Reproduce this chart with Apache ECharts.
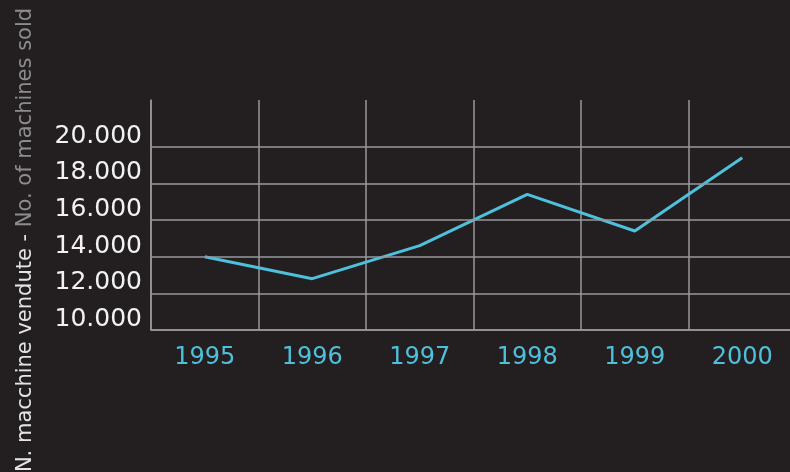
<!DOCTYPE html>
<html>
<head>
    <meta charset="UTF-8">
    <title>N. macchine vendute</title>
    <style>
        html, body { margin: 0; padding: 0; background: #231f20; }
    </style>
</head>
<body>
<div id="chart" style="width: 790px;height: 472px;"></div>
<script src="https://cdn.jsdelivr.net/npm/echarts@6/dist/echarts.min.js"></script>
<script>
    // dati
    var years = ['1995', '1996', '1997', '1998', '1999', '2000'];
    var sold = [14000, 12800, 14600, 17400, 15400, 19400];
    var yTicks = [10000, 12000, 14000, 16000, 18000, 20000];

    var gridColor = '#98989d';
    var lineColor = '#4fc0dc';

    var chart = echarts.init(document.getElementById('chart'));
    var option = {
        backgroundColor: '#231f20',
        animation: false,
        textStyle: { fontFamily: 'DejaVu Sans' },
        grid: { left: 151, width: 645, top: 100, bottom: 142, outerBoundsMode: 'none' },
        graphic: [{
            type: 'text',
            x: 26,
            y: 240,
            rotation: Math.PI / 2,
            style: {
                text: '{a|N. macchine vendute - }{b|No. of machines sold}',
                align: 'center',
                verticalAlign: 'middle',
                rich: {
                    a: { fill: '#e4e4e4', fontSize: 21, fontFamily: 'DejaVu Sans' },
                    b: { fill: '#8c8c8e', fontSize: 21, fontFamily: 'DejaVu Sans' }
                }
            }
        }],
        xAxis: {
            type: 'category',
            data: years,
            boundaryGap: true,
            axisLine: { lineStyle: { color: gridColor, width: 1.5 } },
            axisTick: { show: false },
            axisLabel: { color: lineColor, fontSize: 24, margin: 16 },
            splitLine: { show: true, lineStyle: { color: gridColor, width: 1.5 } }
        },
        yAxis: {
            type: 'value',
            min: 10000,
            max: 22545,
            interval: 2000,
            axisLine: { show: true, lineStyle: { color: gridColor, width: 1.5 } },
            axisTick: { show: false },
            splitLine: { show: false },
            axisLabel: {
                color: '#f2f2f2',
                fontSize: 25,
                margin: 9,
                verticalAlign: 'bottom',
                padding: [0, 0, -2, 0],
                formatter: function (v) {
                    if (v > 20000) return '';
                    return String(v).replace(/\B(?=(\d{3})+(?!\d))/g, '.');
                }
            }
        },
        series: [{
            type: 'line',
            data: sold,
            symbol: 'none',
            lineStyle: { color: lineColor, width: 3 },
            markLine: {
                silent: true,
                symbol: 'none',
                label: { show: false },
                lineStyle: { color: gridColor, width: 1.5, type: 'solid' },
                data: yTicks.map(function (t) { return { yAxis: t }; })
            }
        }]
    };
    chart.setOption(option);
</script>
</body>
</html>
